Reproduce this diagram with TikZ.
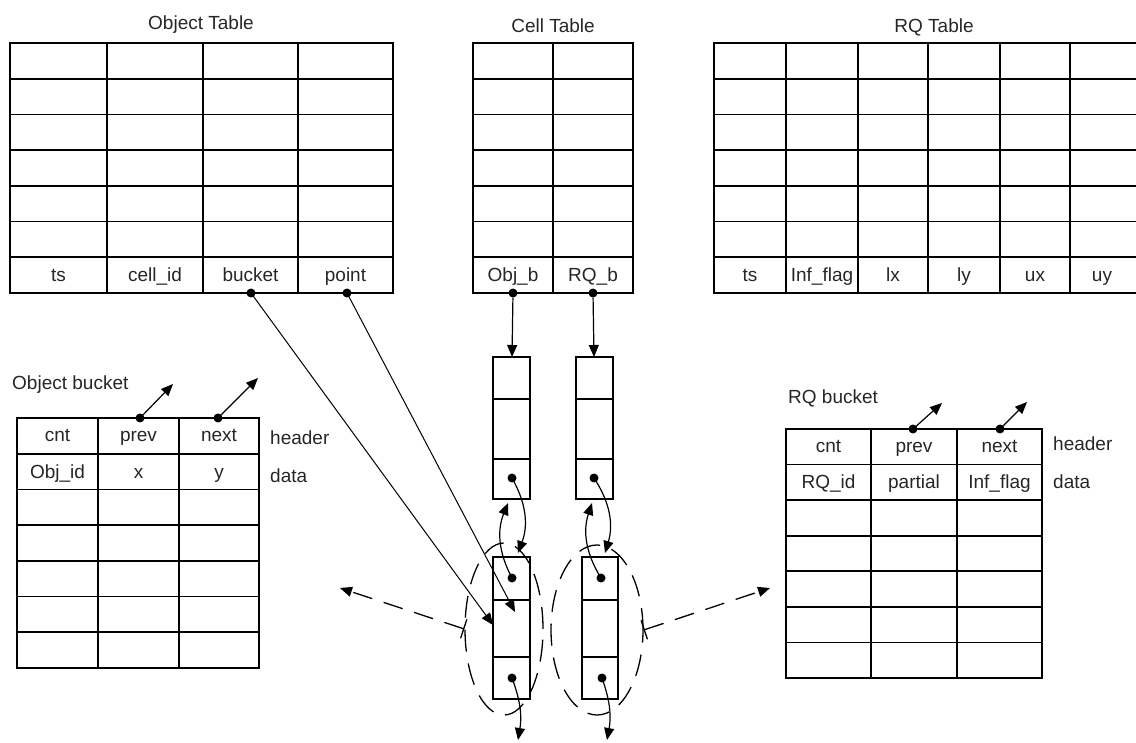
\documentclass[tikz,border=0pt]{standalone}
\usepackage{fontspec}
\setmainfont{Liberation Sans}
\usetikzlibrary{arrows.meta, shapes.geometric}

\tikzset{
  cellline/.style={line width=1.7pt},
  ptr/.style={line width=1.2pt, -{Triangle[length=12pt,width=10pt]}},
  dot/.style={circle, fill=black, inner sep=0pt, minimum size=9pt},
  lbl/.style={font=\fontsize{19}{22}\selectfont, inner sep=0pt, text height=13pt, text depth=4pt, text=black!85},
  ring/.style={ellipse, draw, line width=1.3pt, dash pattern=on 22pt off 12pt, inner sep=0pt},
  spill/.style={line width=1.3pt, dash pattern=on 20pt off 12pt, {Bar[width=20pt]}-{Triangle[length=12pt,width=10pt]}}
}

\begin{document}
\begin{tikzpicture}[x=1pt, y=-1pt]
\useasboundingbox (0,0) rectangle (1136,743);

% Object table: ts, cell_id, bucket, point
\node[lbl] (objtitle) at (201,25.5) {Object Table};
\draw[cellline] (10,43) rectangle (393,293);
\foreach \y in {78.7,114.4,150.1,185.8,221.5,257.2} \draw[cellline] (10,\y) -- (393,\y);
\foreach \x in {107,203,298} \draw[cellline] (\x,43) -- (\x,293);
\foreach \t/\x/\n in {ts/58.5/ts, cell\_id/155/cid, bucket/250.5/bkt, point/345.5/pnt}
  \node[lbl] (obj-\n) at (\x,277) {\t};
\node[dot] (bucketptr) at (251,293) {};
\node[dot] (pointptr) at (347,293) {};

% Cell table: Obj_b, RQ_b
\node[lbl] (celltitle) at (553,28.5) {Cell Table};
\draw[cellline] (473,43) rectangle (633,293);
\foreach \y in {78.7,114.4,150.1,185.8,221.5,257.2} \draw[cellline] (473,\y) -- (633,\y);
\draw[cellline] (553,43) -- (553,293);
\node[lbl] (cell-objb) at (513,277) {Obj\_b};
\node[lbl] (cell-rqb) at (593,277) {RQ\_b};
\node[dot] (objbptr) at (513,293) {};
\node[dot] (rqbptr) at (593,293) {};

% RQ table: runs past the right margin
\node[lbl] (rqtitle) at (934,28.5) {RQ Table};
\draw[cellline] (714,43) rectangle (1142,293);
\foreach \y in {78.7,114.4,150.1,185.8,221.5,257.2} \draw[cellline] (714,\y) -- (1142,\y);
\foreach \x in {786,858,928,1000,1070} \draw[cellline] (\x,43) -- (\x,293);
\foreach \t/\x/\n in {ts/750/ts, Inf\_flag/822/inf, lx/893/lx, ly/964/ly, ux/1035/ux, uy/1102/uy}
  \node[lbl] (rq-\n) at (\x,277) {\t};

% Object chain: head bucket and next bucket
\draw[cellline] (493,357) rectangle (530,499);
\draw[cellline] (493,399) -- (530,399) (493,459) -- (530,459);
\draw[cellline] (493,557) rectangle (530,699);
\draw[cellline] (493,600) -- (530,600) (493,657) -- (530,657);
\node[dot] (objhead) at (512,478) {};
\node[dot] (objlowprev) at (512,578) {};
\node[dot] (objlownext) at (512,678) {};
\coordinate (objtop-in) at (512,357);
\coordinate (objtop-back) at (508,503);
\coordinate (objlow-in) at (518,553);
\coordinate (objlow-side) at (493,625);
\coordinate (objlow-mid) at (515,612);
\coordinate (objlow-out) at (518,740);

% RQ chain: head bucket and next bucket
\draw[cellline] (576,357) rectangle (613,499);
\draw[cellline] (576,399) -- (613,399) (576,459) -- (613,459);
\draw[cellline] (582,557) rectangle (618,699);
\draw[cellline] (582,600) -- (618,600) (582,657) -- (618,657);
\node[dot] (rqhead) at (594,478) {};
\node[dot] (rqlowprev) at (601,578) {};
\node[dot] (rqlownext) at (602,678) {};
\coordinate (rqtop-in) at (594,357);
\coordinate (rqtop-back) at (592,503);
\coordinate (rqlow-in) at (605,553);
\coordinate (rqlow-out) at (607,740);

% Dashed rings round the second buckets
\node[ring, minimum width=78pt, minimum height=172pt] (objring) at (504,629) {};
\node[ring, minimum width=92pt, minimum height=170pt] (rqring) at (597,630) {};
\coordinate (objspill) at (340,588);
\coordinate (rqspill) at (770,588);
\draw[spill] (objring.west) -- (objspill);
\draw[spill] (rqring.east) -- (rqspill);

% Pointers
\draw[ptr] (objbptr) -- (objtop-in);
\draw[ptr] (rqbptr) -- (rqtop-in);
\draw[ptr, line width=1pt] (bucketptr.center) -- (objlow-side);
\draw[ptr, line width=1pt] (pointptr.center) -- (objlow-mid);
\draw[ptr] (objhead.center) to[bend left=25] (objlow-in);
\draw[ptr] (objlowprev.center) to[bend left=25] (objtop-back);
\draw[ptr] (objlownext.center) to[bend left=15] (objlow-out);
\draw[ptr] (rqhead.center) to[bend left=25] (rqlow-in);
\draw[ptr] (rqlowprev.center) to[bend left=25] (rqtop-back);
\draw[ptr] (rqlownext.center) to[bend left=15] (rqlow-out);

% Object bucket layout
\node[lbl, anchor=west] (objbkttitle) at (12,385.5) {Object bucket};
\draw[cellline] (17,418) rectangle (259,668);
\foreach \y in {453.7,489.4,525.1,560.8,596.5,632.2} \draw[cellline] (17,\y) -- (259,\y);
\foreach \x in {98,179} \draw[cellline] (\x,418) -- (\x,668);
\foreach \t/\x/\y/\n in {cnt/57.5/437.5/cnt, prev/138.5/437.5/prev, next/219/437.5/next,
  Obj\_id/57.5/473.5/id, x/138.5/473.5/x, y/219/473.5/y}
  \node[lbl] (objbkt-\n) at (\x,\y) {\t};
\node[lbl, anchor=west] (objhdr) at (270,440.5) {header};
\node[lbl, anchor=west] (objdata) at (270,478) {data};
\node[dot] (objprev) at (140,418) {};
\node[dot] (objnext) at (218,418) {};
\coordinate (objprev-to) at (173,384);
\coordinate (objnext-to) at (258,378);
\draw[ptr] (objprev.center) -- (objprev-to);
\draw[ptr] (objnext.center) -- (objnext-to);

% RQ bucket layout
\node[lbl, anchor=west] (rqbkttitle) at (788,399.5) {RQ bucket};
\draw[cellline] (786,429) rectangle (1042,678);
\foreach \y in {464.6,500.1,535.7,571.3,606.9,642.4} \draw[cellline] (786,\y) -- (1042,\y);
\foreach \x in {871,957} \draw[cellline] (\x,429) -- (\x,678);
\foreach \t/\x/\y/\n in {cnt/828.5/447.5/cnt, prev/914/447.5/prev, next/999.5/447.5/next,
  RQ\_id/828.5/483.5/id, partial/914/483.5/part, Inf\_flag/999.5/483.5/inf}
  \node[lbl] (rqbkt-\n) at (\x,\y) {\t};
\node[lbl, anchor=west] (rqhdr) at (1053,445.5) {header};
\node[lbl, anchor=west] (rqdata) at (1053,483.5) {data};
\node[dot] (rqprev) at (913,429) {};
\node[dot] (rqnext) at (1000,429) {};
\coordinate (rqprev-to) at (942,403);
\coordinate (rqnext-to) at (1027,402);
\draw[ptr] (rqprev.center) -- (rqprev-to);
\draw[ptr] (rqnext.center) -- (rqnext-to);

\end{tikzpicture}
\end{document}
